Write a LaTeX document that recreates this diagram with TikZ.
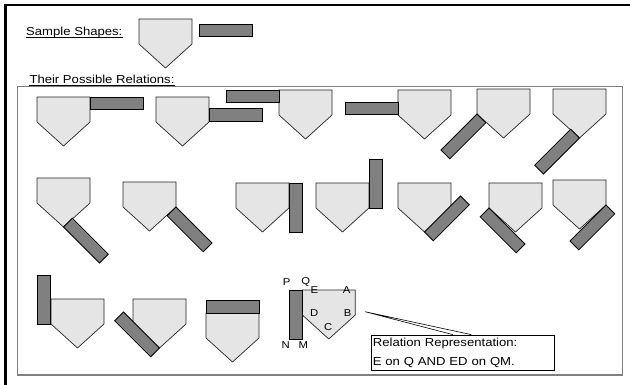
\documentclass[tikz,border=0pt]{standalone}
\usepackage{fontspec}
\setmainfont{Liberation Sans}[FakeStretch=1.13]
\usepackage{tikz}
\definecolor{pentfill}{gray}{0.9}
\definecolor{barfill}{gray}{0.5}
\tikzset{
    pent/.style={fill=pentfill, draw=black!85, line width=0.7pt}, % 五边形的样式
    barbox/.style={fill=barfill, draw=black, line width=0.8pt}, % 矩形条的样式
    title/.style={inner sep=0pt, anchor=base west, font=\fontsize{11.6}{14}\selectfont},
    lbl/.style={inner sep=0pt, font=\fontsize{10}{12}\selectfont}, % 顶点字母
    callbox/.style={draw, fill=white, line width=0.7pt, minimum width=182.3pt, minimum height=35.7pt,
        text width=180pt, align=left, inner xsep=1pt, inner ysep=0pt, font=\fontsize{11.6}{18.3}\selectfont}
}
\begin{document}
\begin{tikzpicture}[x=1pt, y=-1pt]
            \useasboundingbox (0,0) rectangle (630,385);
            \def\pw{53} \def\ph{25} \def\pt{24}

            \draw[line width=2.4pt] (5.3,386) -- (5.3,5) -- (631,5);
            \draw[draw=black!50, line width=1.1pt] (17.3,86.8) rectangle (622.7,375);

            \node[title] (sample) at (26,36) {Sample Shapes:};
            \draw[line width=0.6pt] ([yshift=-1.4pt]sample.base west) -- ([yshift=-1.4pt]sample.base east);
            \node[title] (relations) at (29.3,83.3) {Their Possible Relations:};
            \draw[line width=0.6pt] ([yshift=-1.7pt]relations.base west) -- ([yshift=-1.7pt]relations.base east);

            \foreach \x/\y in {139/19, 37/97, 156/97, 279/90, 398/90, 477/89, 553/89, 37/178, 123/182, 236/183, 316/183, 398/183, 489/183, 553/180, 51/299, 133/299, 206/313, 302.3/290}
                {\draw[pent] (\x,\y) -- ++(\pw,0) -- ++(0,\ph) -- ++(-\pw/2,\pt) -- ++(-\pw/2,-\pt) -- cycle;}

            \foreach \x/\y in {199/24, 90/97, 209/108.5, 226/90, 345/102, 206/300.5} {\draw[barbox] (\x,\y) rectangle ++(\pw,12.5);}
            \foreach \x/\y in {289/183, 369/159, 37.5/275, 289/290} {\draw[barbox] (\x,\y) rectangle ++(13.3,49);}
            \foreach \x/\y/\ux/\uy/\vx/\vy in {477/114/8.84/8.84/-36/36, 579.5/138/-8.84/-8.84/-36/36, 63.5/227/8.84/-8.84/36/36, 176/207/-8.84/8.84/36/36, 424.5/232/36/-36/8.84/8.84, 489/208/36/36/-8.84/8.84, 606/205/-36/36/8.84/8.84, 123.5/312/36/36/-8.84/8.84}
                {\draw[barbox] (\x,\y) -- ++(\ux,\uy) -- ++(\vx,\vy) -- (\x+\vx,\y+\vy) -- cycle;}

            \foreach \n/\x/\y in {P/286.7/282.3, Q/305.7/281.7, E/314.3/290.5, A/346.7/290.5, D/314.3/313.5, B/347.7/313.5, C/328.3/326.7, N/285.7/345, M/303.3/345}
                {\node[lbl] (l\n) at (\x,\y) {\n};}

            \coordinate (relpt) at (365,311.7);
            \node[callbox] (relbox) at (462.85,352.85) {Relation Representation:\\E on Q AND ED on QM.};
            \draw[line width=0.6pt] ([xshift=81.6pt]relbox.north west) -- (relpt) -- ([xshift=100pt]relbox.north west);
        \end{tikzpicture}
\end{document}
